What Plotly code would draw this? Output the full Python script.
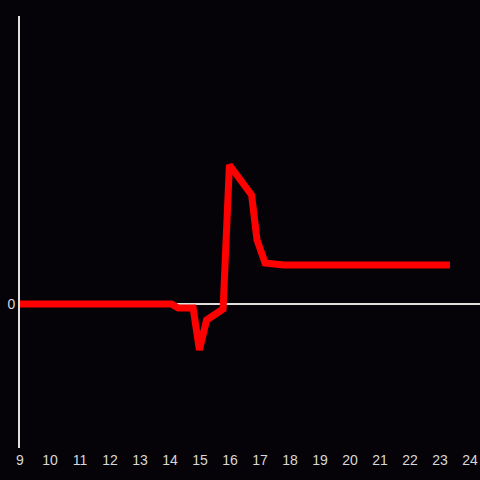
import plotly.graph_objects as go

hours = [9, 14.05, 14.27, 14.77, 14.98, 15.22, 15.77, 15.98, 16.72, 16.9, 17.17, 17.78, 23.33]
values = [0, 0, -4, -4, -46, -16, -5, 139, 109, 64, 41, 39, 39]
x_ticks = list(range(9, 25))

fig = go.Figure()
fig.add_trace(go.Scatter(x=hours, y=values, mode="lines",
                         line=dict(color="#ff0000", width=7), hoverinfo="skip"))

fig.update_layout(
    width=480, height=480,
    margin=dict(l=20, r=0, t=16, b=32),
    paper_bgcolor="#050307", plot_bgcolor="#050307",
    showlegend=False,
    font=dict(family="Liberation Sans, Arial, sans-serif", size=14, color="#d8d8d8"),
    xaxis=dict(range=[9, 24.333], tickvals=x_ticks, ticktext=[str(t) for t in x_ticks],
               showgrid=False, zeroline=False, showline=False, ticks="",
               ticklabelstandoff=2,
               tickfont=dict(size=14, color="#d8d8d8")),
    yaxis=dict(range=[-144, 288], tickvals=[0], ticktext=["0"],
               showgrid=False, zeroline=True, zerolinecolor="#e0e0dc", zerolinewidth=2,
               showline=True, linecolor="#e0e0dc", linewidth=2, ticks="",
               tickfont=dict(size=14, color="#d8d8d8")),
)

fig.write_html("out.html", config={"displayModeBar": False},
               post_script="document.body.style.margin='0';document.body.style.padding='0';document.body.style.background='#050307';")
